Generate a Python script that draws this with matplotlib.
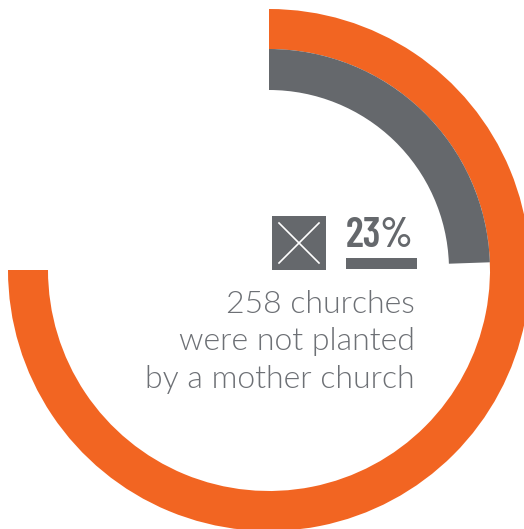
import matplotlib.pyplot as plt
from matplotlib.patches import Wedge, Rectangle

# ring data (degrees, counter-clockwise from 3 o'clock)
ring_labels = ['all churches', 'not planted by a mother church']
ring_start = [180, 2]
ring_end = [450, 90]
ring_colors = ['#f26522', '#65686c']

pct_label = '23%'
caption = ['258 churches', 'were not planted', 'by a mother church']

W, H = 524, 529
fig = plt.figure(figsize=(W / 100, H / 100), dpi=100)
ax = fig.add_axes([0, 0, 1, 1])
ax.set_xlim(0, W)
ax.set_ylim(H, 0)
ax.set_aspect('equal')
ax.axis('off')

cx, cy = 269, 270
radii = [261, 221]
widths = [40, 41]
for t1, t2, r, w, c in zip(ring_start, ring_end, radii, widths, ring_colors):
    # y axis is inverted, so flip angles
    ax.add_patch(Wedge((cx, cy), r, -t2, -t1, width=w, color=c, lw=0))

# icon: gray square with a white cross
ax.add_patch(Rectangle((272, 216), 54, 54, color=ring_colors[1], lw=0))
ax.plot([279, 319], [223, 263], color='white', lw=1.2)
ax.plot([279, 319], [263, 223], color='white', lw=1.2)

ax.text(346, 247, pct_label, fontsize=30, fontweight=600,
        fontfamily='Barlow Condensed', color=ring_colors[1],
        ha='left', va='baseline')
ax.add_patch(Rectangle((346, 258), 71, 11, color=ring_colors[1], lw=0))

for i, line in enumerate(caption):
    ax.text(415, 313 + i * 37.5, line, fontsize=23, fontfamily='Lato',
            fontweight=300, color='#6d7075', ha='right', va='baseline')

fig.savefig('out.png', dpi=100)
